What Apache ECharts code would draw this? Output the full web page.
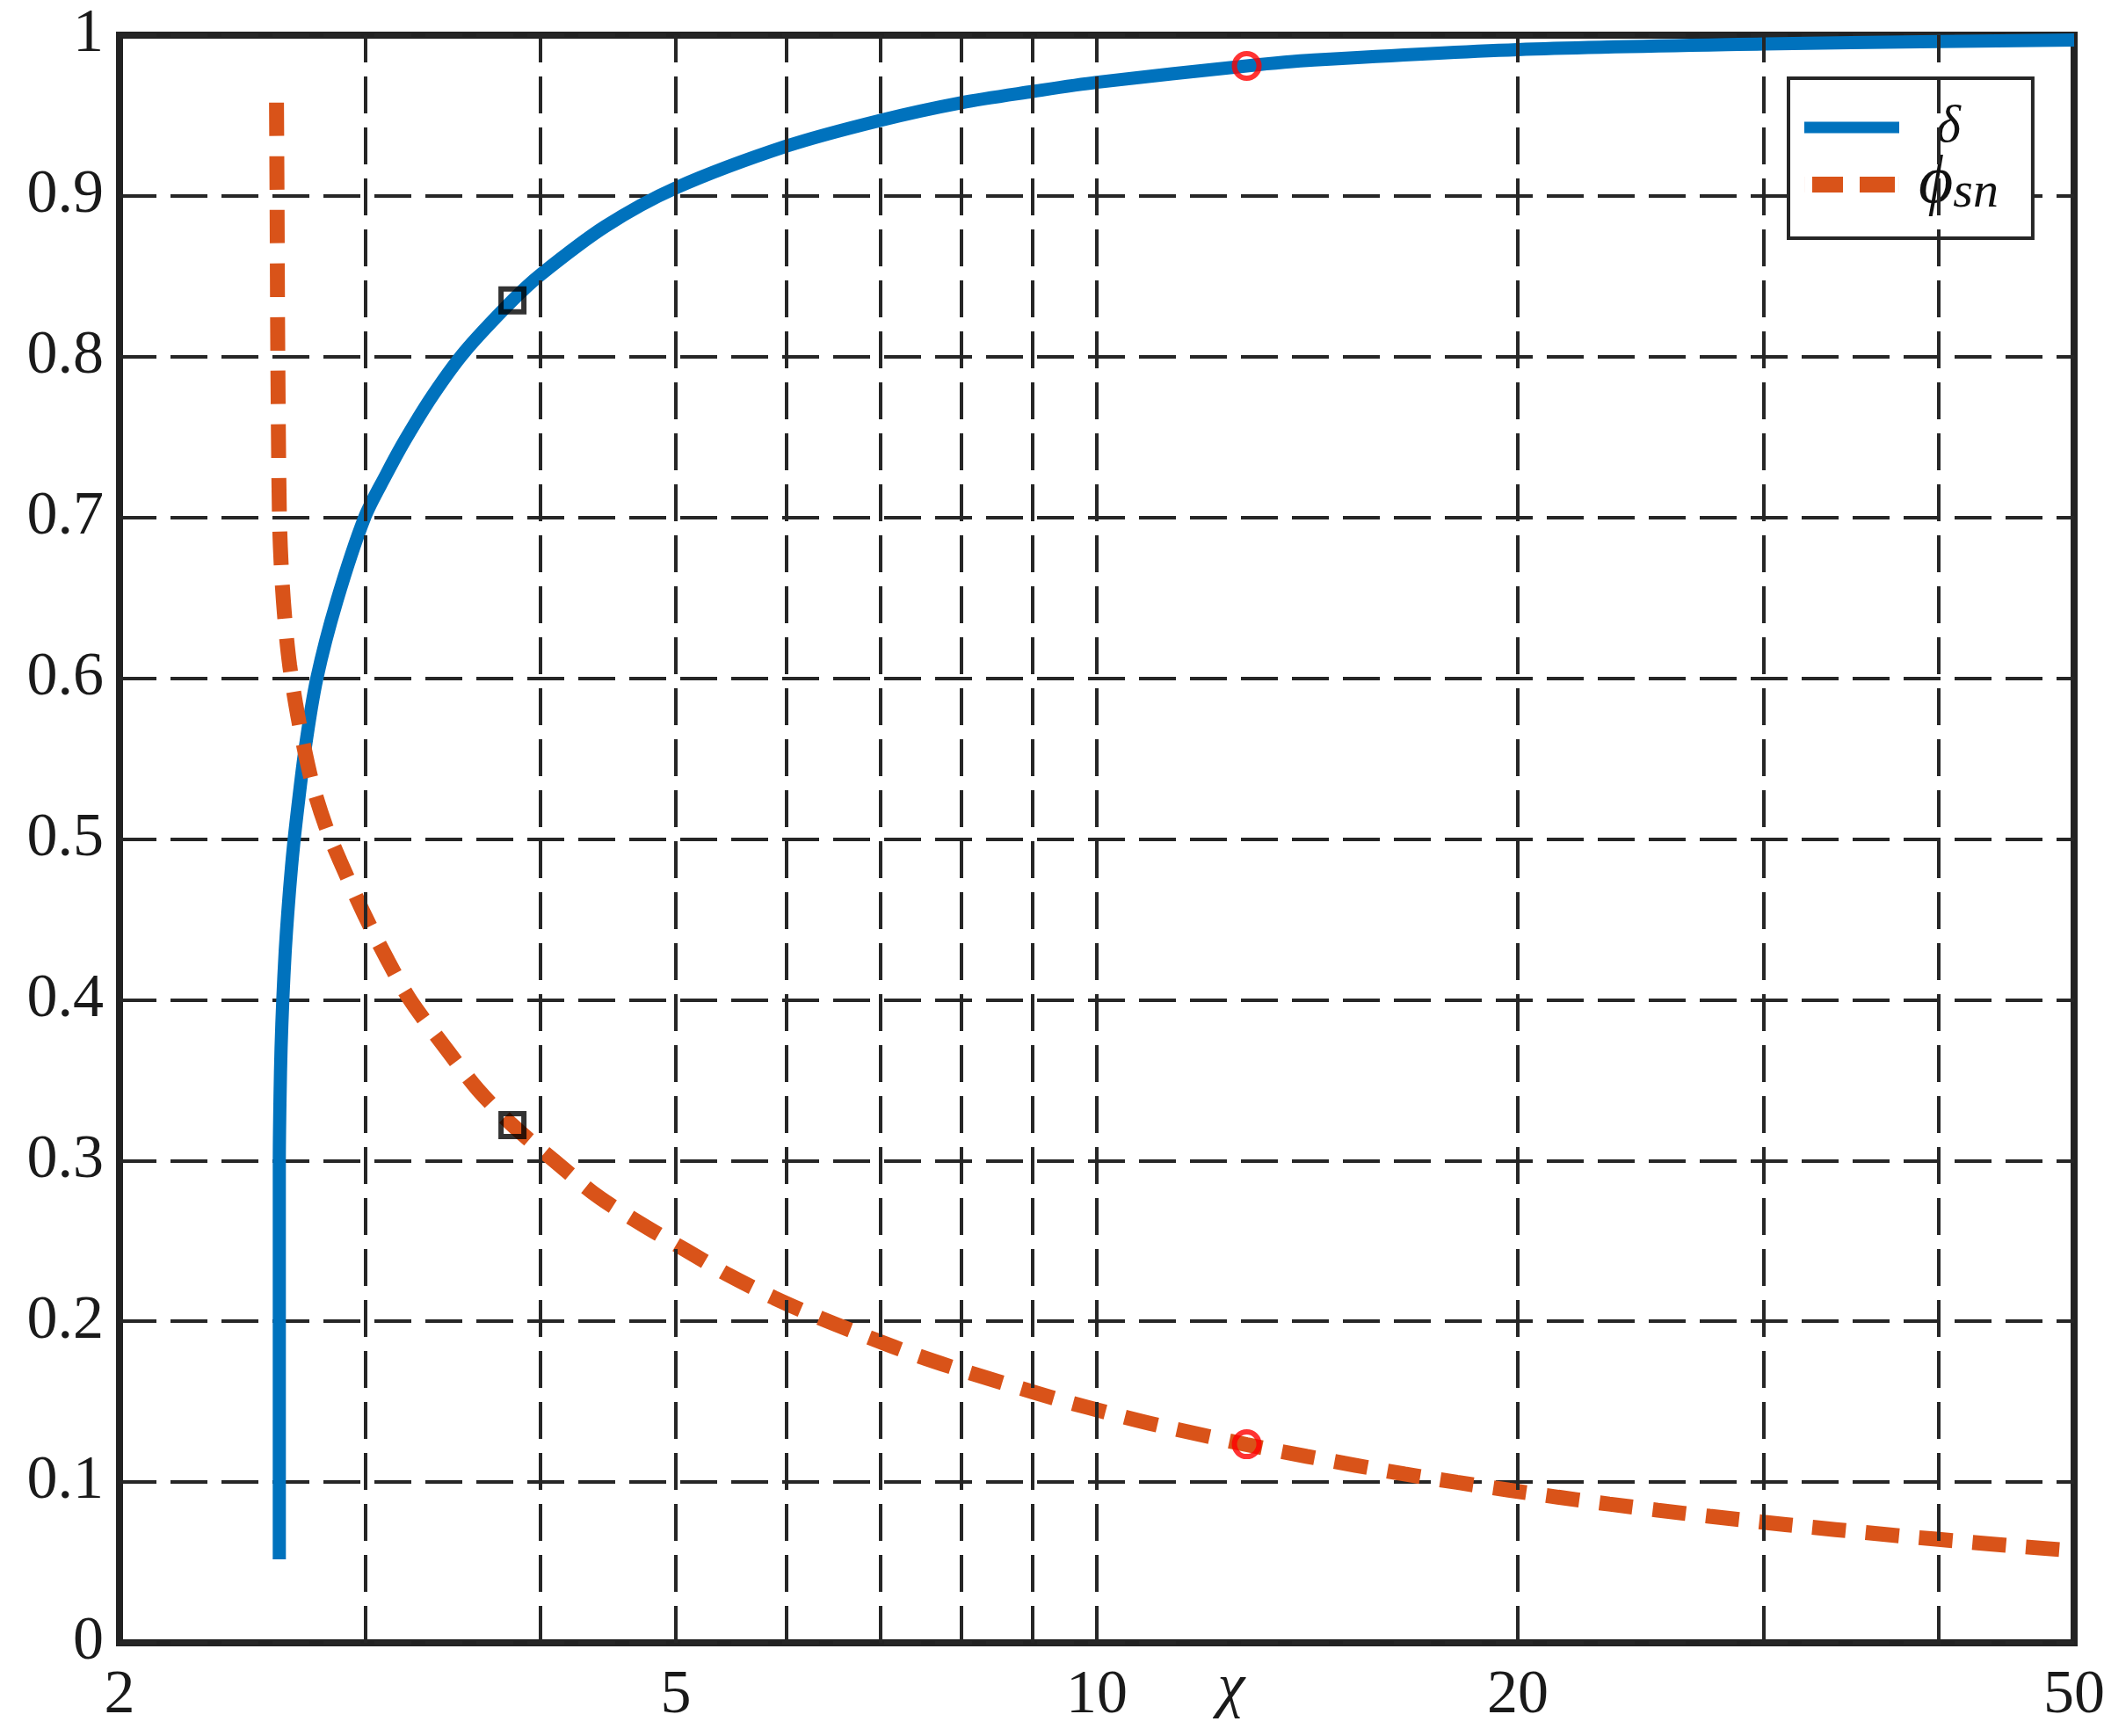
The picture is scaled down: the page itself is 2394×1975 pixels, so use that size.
<!DOCTYPE html>
<html><head><meta charset="utf-8">
<script src="https://cdn.jsdelivr.net/npm/echarts@6/dist/echarts.min.js"></script>
<style>html,body{margin:0;padding:0;background:#fff}#c{width:2394px;height:1975px}</style>
</head><body><div id="c"></div>
<script>
// delta curve (solid blue)
const deltaX = [2.602, 2.602, 2.602, 2.6052, 2.6096, 2.6171, 2.6273, 2.6391, 2.655, 2.6745, 2.7148, 2.768, 2.8604, 2.9945, 3.1, 3.2, 3.35, 3.53, 3.82, 4.0, 4.45, 5.0, 6, 7, 8, 9, 10, 12.8, 14.3, 20, 30, 40, 50];
const deltaY = [0.052, 0.2, 0.3, 0.34, 0.37, 0.40, 0.43, 0.455, 0.483, 0.51, 0.556, 0.60, 0.648, 0.70, 0.726, 0.748, 0.776, 0.803, 0.835, 0.851, 0.881, 0.905, 0.931, 0.947, 0.958, 0.965, 0.9707, 0.9809, 0.9845, 0.991, 0.9945, 0.996, 0.997];
// phi_sn curve (dashed orange)
const phiX = [2.59, 2.5923, 2.5956, 2.6026, 2.6126, 2.6287, 2.6468, 2.6738, 2.7011, 2.7482, 2.8086, 2.877, 2.997, 3.113, 3.227, 3.435, 3.61, 3.82, 4.09, 4.40, 4.72, 5.08, 5.46, 5.88, 6.36, 6.88, 7.43, 8.04, 8.69, 9.44, 10.25, 11.08, 12.8, 14.13, 16.6, 18.1, 19.71, 21.37, 23.25, 25.19, 27.43, 29.85, 32.37, 35.2, 38.19, 41.56, 45.22, 50];
const phiY = [0.958, 0.9, 0.8, 0.7, 0.6635, 0.632, 0.608, 0.5835, 0.563, 0.534, 0.508, 0.486, 0.452, 0.424, 0.40, 0.368, 0.344, 0.322, 0.30, 0.2775, 0.2607, 0.2443, 0.2285, 0.2145, 0.2015, 0.1898, 0.1789, 0.169, 0.16, 0.1508, 0.1425, 0.1352, 0.1233, 0.116, 0.105, 0.0998, 0.095, 0.0906, 0.0863, 0.0825, 0.0787, 0.0752, 0.072, 0.0689, 0.0659, 0.0631, 0.0603, 0.0573];
// highlighted points
const squareX = [3.82, 3.82];
const squareY = [0.835, 0.322];
const circleX = [12.8, 12.8];
const circleY = [0.9809, 0.1235];
// axes
const xGridValues = [3, 4, 5, 6, 7, 8, 9, 10, 20, 30, 40];
const xTickLabels = [2, 5, 10, 20, 50];
const seriesNames = ['δ', 'φ_sn'];

const zip = (a, b) => a.map((v, i) => [v, b[i]]);
const serif = '"Liberation Serif", "DejaVu Serif", serif';
const gridLine = { color: '#262626', width: 4, type: [42, 16] };

const chart = echarts.init(document.getElementById('c'), null, { renderer: 'canvas' });
chart.setOption({
  animation: false,
  backgroundColor: '#fff',
  grid: { left: 136, right: 34, top: 40, bottom: 106, outerBoundsMode: 'none', containLabel: false,
          show: true, borderColor: '#222', borderWidth: 8, backgroundColor: 'transparent' },
  xAxis: {
    type: 'log', logBase: 10, min: 2, max: 50,
    axisLine: { show: false }, axisTick: { show: false }, splitLine: { show: false },
    axisLabel: { customValues: xTickLabels, fontFamily: serif, fontSize: 70, color: '#1a1a1a', margin: 26, formatter: v => String(v) },
    name: 'χ', nameLocation: 'middle', nameGap: 18, nameMoveOverlap: false,
    nameTextStyle: { fontFamily: serif, fontStyle: 'italic', fontSize: 70, color: '#1a1a1a', padding: [0, 0, 0, 306], verticalAlign: 'top' }
  },
  yAxis: {
    type: 'value', min: 0, max: 1, interval: 0.1,
    axisLine: { show: false }, axisTick: { show: false },
    splitLine: { show: true, lineStyle: gridLine },
    axisLabel: { fontFamily: serif, fontSize: 70, color: '#1a1a1a', margin: 18, formatter: v => String(+v.toFixed(1)) }
  },
  legend: {
    data: [
      { name: seriesNames[0], icon: 'path://M0,0H108V13H0Z' },
      { name: seriesNames[1], icon: 'path://M0,0H0.05V18H0Z M9,0H44V18H9Z M63,0H103V18H63Z M107.95,0H108V18H107.95Z' }
    ],
    orient: 'vertical', left: 2035, top: 89,
    backgroundColor: '#fff', borderColor: '#262626', borderWidth: 4,
    padding: [26, 39, 22, 18],
    itemWidth: 108, itemHeight: 46, itemGap: -3,
    textStyle: {
      padding: [0, 0, 0, 17],
      rich: {
        d: { fontFamily: serif, fontStyle: 'italic', fontSize: 60, lineHeight: 46, color: '#111', padding: [0, 0, 0, 20] },
        p: { fontFamily: serif, fontStyle: 'italic', fontSize: 76, lineHeight: 46, color: '#111' },
        s: { fontFamily: serif, fontStyle: 'italic', fontSize: 58, lineHeight: 46, color: '#111', verticalAlign: 'bottom', padding: [0, 0, -16, 0] }
      }
    },
    formatter: n => n === seriesNames[0] ? '{d|δ}' : '{p|ϕ}{s|sn}'
  },
  series: [
    {
      name: 'grid', type: 'line', z: 1, silent: true, data: [], symbol: 'none',
      markLine: { silent: true, symbol: 'none', label: { show: false }, lineStyle: gridLine, data: xGridValues.map(v => ({ xAxis: v })) }
    },
    {
      name: seriesNames[0], type: 'line', z: 3, data: zip(deltaX, deltaY), symbol: 'none', smooth: 0.3,
      lineStyle: { color: '#0072BD', width: 15 }, itemStyle: { color: '#0072BD' }
    },
    {
      name: seriesNames[1], type: 'line', z: 3, data: zip(phiX, phiY), symbol: 'none', smooth: 0.3,
      lineStyle: { color: '#D95319', width: 17, type: [38, 23], cap: 'butt' }, itemStyle: { color: '#D95319' }
    },
    {
      name: 'sq', type: 'scatter', z: 5, data: zip(squareX, squareY), symbol: 'rect', symbolSize: 26,
      itemStyle: { color: 'rgba(0,0,0,0)', borderColor: '#000', borderWidth: 6 }
    },
    {
      name: 'ci', type: 'scatter', z: 5, data: zip(circleX, circleY), symbol: 'circle', symbolSize: 28,
      itemStyle: { color: 'rgba(0,0,0,0)', borderColor: '#ff0000', borderWidth: 6 }
    }
  ]
});
</script></body></html>
